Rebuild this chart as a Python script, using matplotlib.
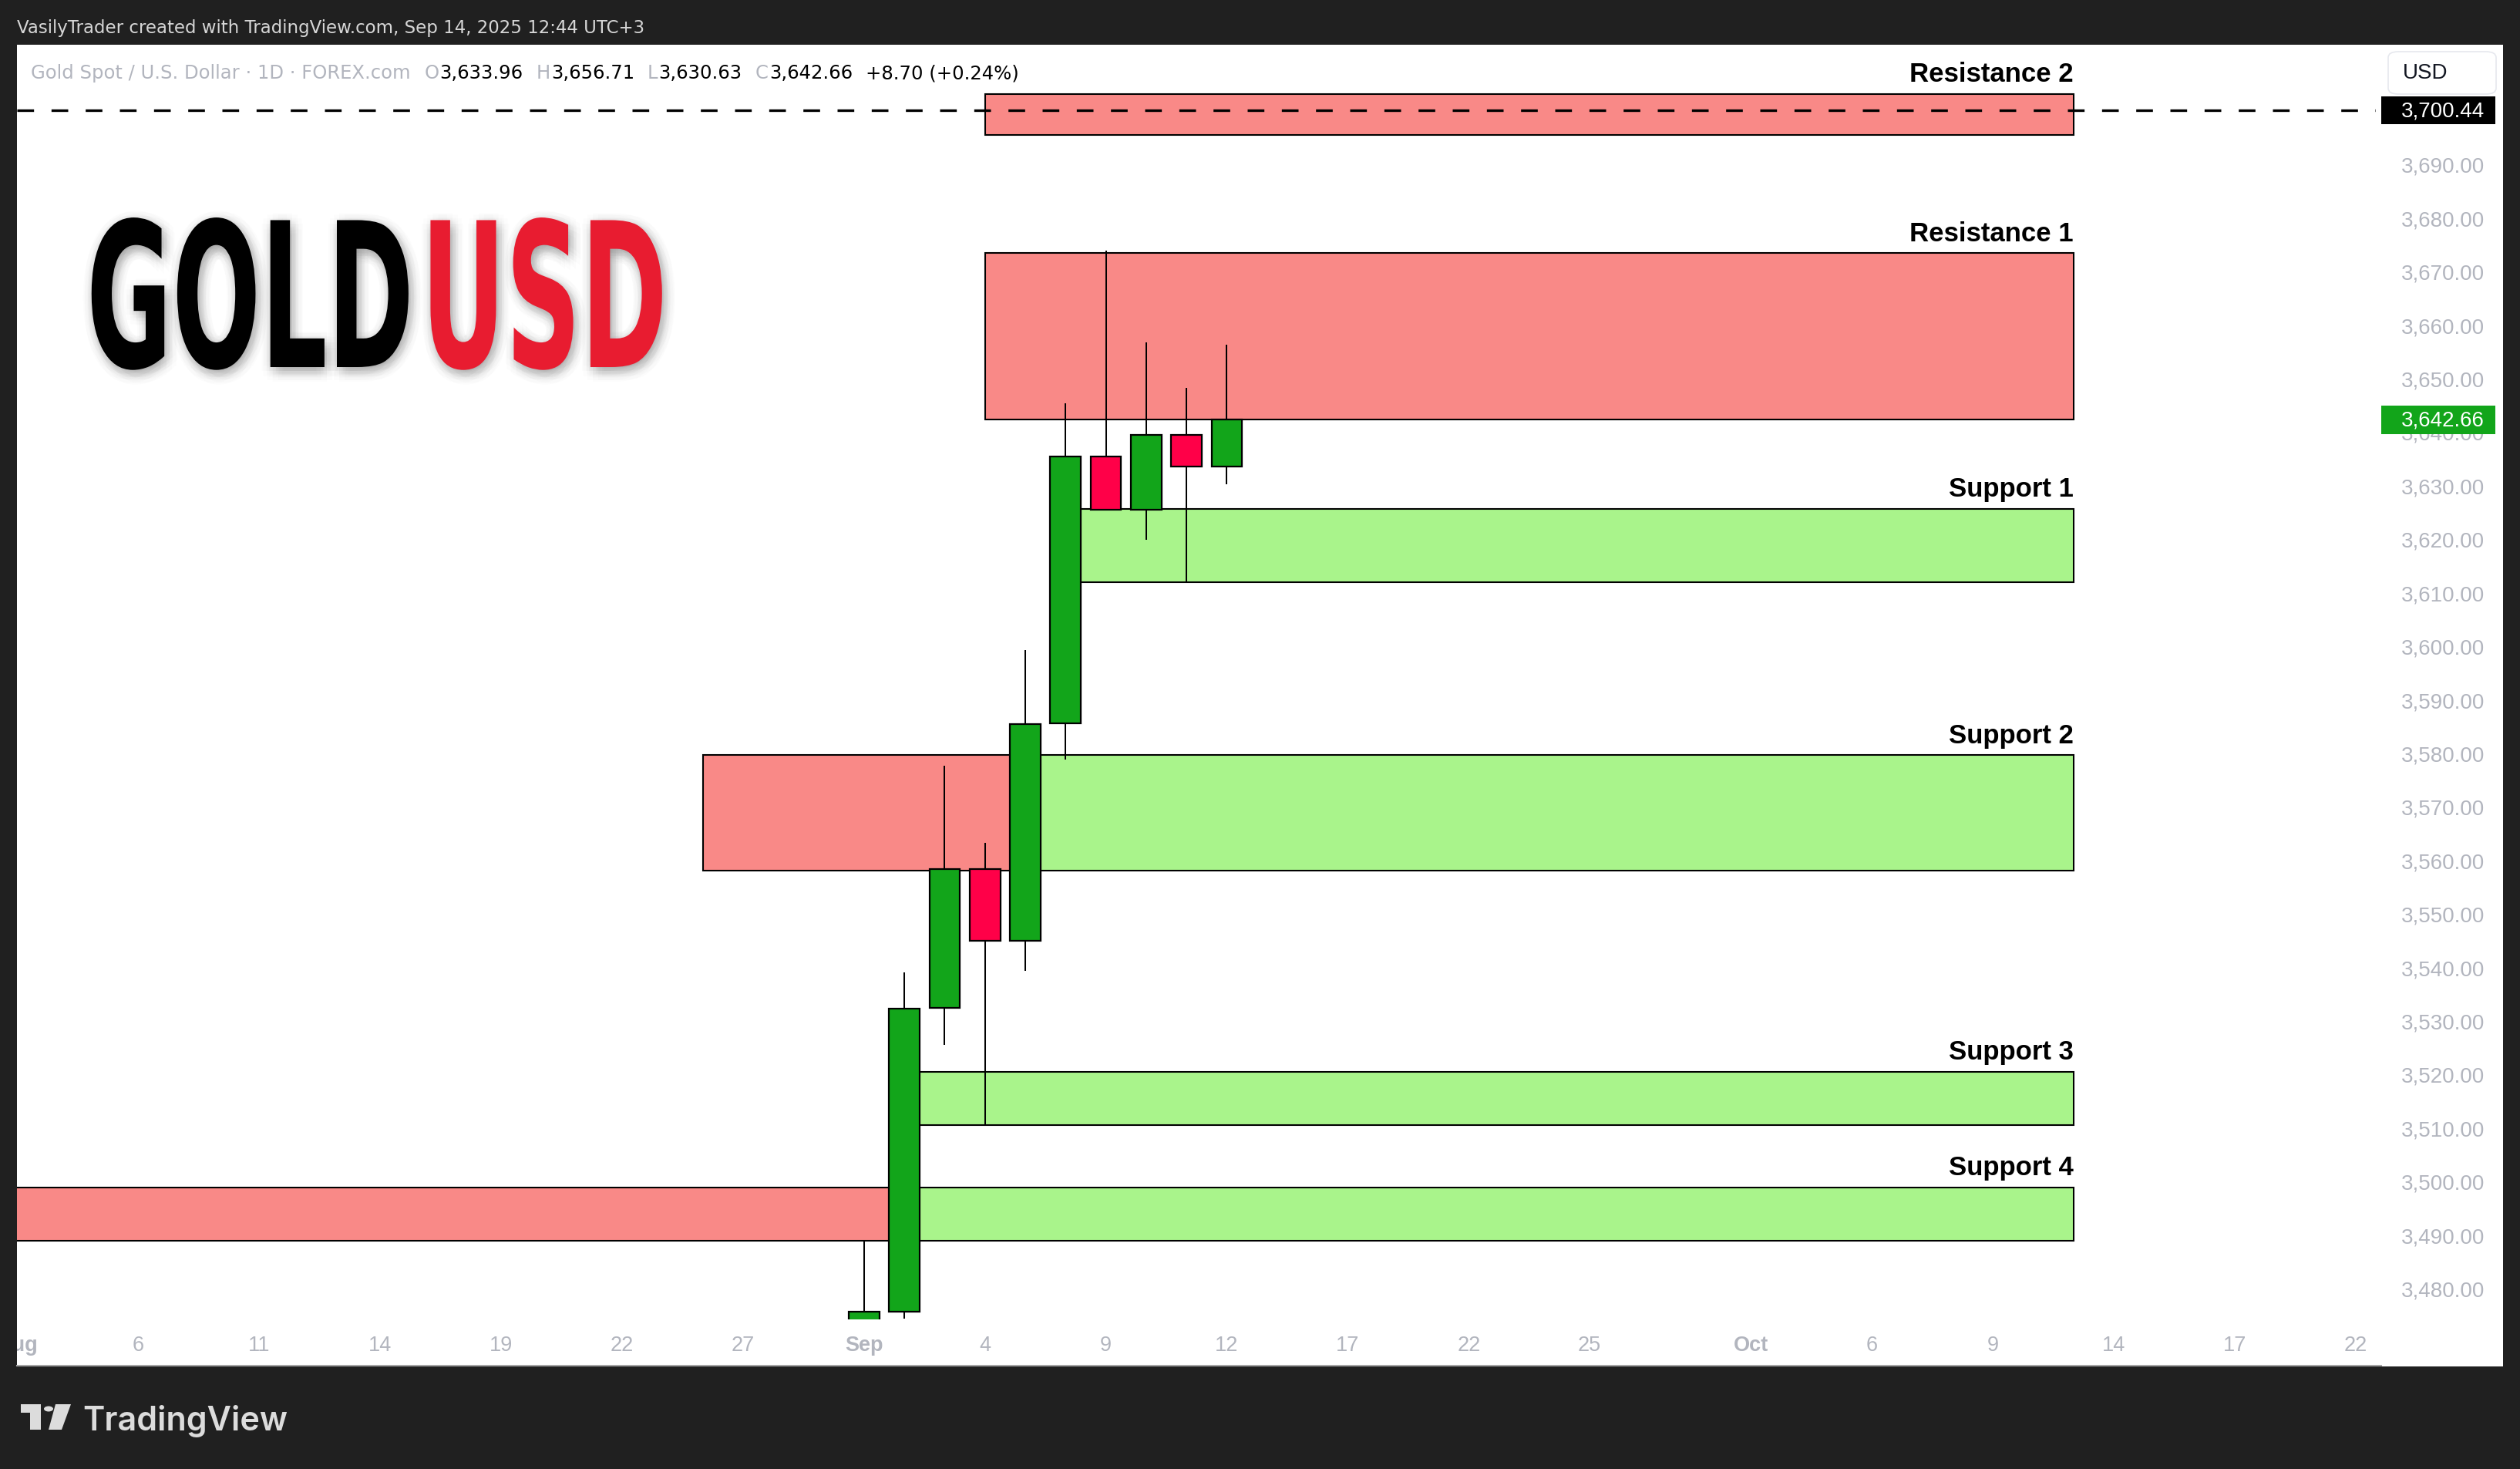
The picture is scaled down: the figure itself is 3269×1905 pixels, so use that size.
import numpy as np
import matplotlib
matplotlib.use('Agg')
import matplotlib.pyplot as plt
from matplotlib.patches import Rectangle, FancyBboxPatch, Polygon, Circle
from matplotlib import patheffects as pe
from matplotlib.transforms import Affine2D, Bbox, TransformedBbox, blended_transform_factory

W, H = 3269, 1906
DPI = 100

# daily candles, gold spot (FOREX.com), Sep 2025
dates = ['2025-09-01', '2025-09-02', '2025-09-03', '2025-09-04', '2025-09-05',
         '2025-09-08', '2025-09-09', '2025-09-10', '2025-09-11', '2025-09-12']
opens = [3448.0, 3476.0, 3532.8, 3558.7, 3545.4, 3585.9, 3635.8, 3625.9, 3639.8, 3633.96]
highs = [3489.4, 3539.5, 3578.0, 3563.7, 3599.6, 3645.8, 3674.3, 3657.1, 3648.6, 3656.71]
lows = [3436.6, 3474.7, 3525.9, 3510.9, 3539.7, 3579.2, 3625.9, 3620.3, 3612.5, 3630.63]
closes = [3476.0, 3532.7, 3558.7, 3545.4, 3585.8, 3635.8, 3625.9, 3639.8, 3633.96, 3642.66]

# support / resistance zones
zone_names = ['Resistance 2', 'Resistance 1', 'Support 1', 'Support 2', 'Support 3', 'Support 4']
zone_top = [3703.6, 3673.8, 3626.0, 3580.0, 3520.9, 3499.3]
zone_bottom = [3695.9, 3642.7, 3612.4, 3558.5, 3510.9, 3489.3]
zone_kind = ['res', 'res', 'sup', 'sup', 'sup', 'sup']
zone_start = ['2025-09-04', '2025-09-04', '2025-09-08', '2025-09-05', '2025-09-02', '2025-09-02']
zone_flip_start = [None, None, None, '2025-08-26', None, '2025-07-01']  # old resistance part
zone_end = '2025-10-13'
level_line = 3700.44

tick_dates = ['2025-08-01', '2025-08-06', '2025-08-11', '2025-08-14', '2025-08-19', '2025-08-22',
              '2025-08-27', '2025-09-01', '2025-09-04', '2025-09-09', '2025-09-12', '2025-09-17',
              '2025-09-22', '2025-09-25', '2025-10-01', '2025-10-06', '2025-10-09', '2025-10-14',
              '2025-10-17', '2025-10-22']
tick_labels = ['Aug', '6', '11', '14', '19', '22', '27', 'Sep', '4', '9', '12', '17', '22', '25',
               'Oct', '6', '9', '14', '17', '22']
price_ticks = list(range(3480, 3700, 10))

BG = '#202020'
RED_ZONE = '#f98987'
GREEN_ZONE = '#a9f48b'
UP = '#12a51a'
DOWN = '#ff0048'
AXIS_GRAY = '#b2b5be'


def bar(d):
    # trading-day index, Sep 1 = 0
    return int(np.busday_count('2025-09-01', d))


def fx(x):
    return x / W


def fy(y):
    return 1 - y / H


fig = plt.figure(figsize=(W / DPI, H / DPI), dpi=DPI)
fig.patch.set_facecolor(BG)
fig.patches.append(Rectangle((fx(22), fy(1773)), fx(3247) - fx(22), fy(59) - fy(1773),
                             transform=fig.transFigure, facecolor='white', edgecolor='none', zorder=-5))
fig.lines.append(plt.Line2D([fx(22), fx(3089)], [fy(1772), fy(1772)], transform=fig.transFigure,
                            color='#a6a6a6', lw=1.5, zorder=-4))

ax = fig.add_axes([fx(22), fy(1712), fx(3082) - fx(22), fy(59) - fy(1712)])
ax.set_xlim(-21.01, 37.5)
ax.set_ylim(3474.6, 3712.75)
ax.axis('off')

# zones
end_i = bar(zone_end)
for name, top, bot, kind, start, flip in zip(zone_names, zone_top, zone_bottom, zone_kind,
                                             zone_start, zone_flip_start):
    s = bar(start)
    col = RED_ZONE if kind == 'res' else GREEN_ZONE
    ax.add_patch(Rectangle((s, bot), end_i - s, top - bot, facecolor=col, edgecolor='black',
                           lw=1.5, zorder=1))
    if flip is not None:
        f = bar(flip)
        ax.add_patch(Rectangle((f, bot), s - f, top - bot, facecolor=RED_ZONE, edgecolor='black',
                               lw=1.5, zorder=1))
    ax.annotate(name, xy=(end_i, top), xytext=(0, 12), textcoords='offset points', ha='right',
                va='baseline', fontsize=25, fontweight='bold', family=['Liberation Sans', 'DejaVu Sans'],
                color='black', annotation_clip=False, zorder=5)

ax.axhline(level_line, color='black', lw=2.4, dashes=(6.5, 6.8), zorder=2)

# candles
bw = 0.76
for d, o, h, l, c in zip(dates, opens, highs, lows, closes):
    i = bar(d)
    ax.vlines(i, l, h, color='black', lw=1.45, zorder=3)
    ax.add_patch(Rectangle((i - bw / 2, min(o, c)), bw, abs(c - o), facecolor=UP if c >= o else DOWN,
                           edgecolor='black', lw=1.6, zorder=4))

# price axis
trans_py = blended_transform_factory(fig.transFigure, ax.transData)
for p in price_ticks:
    ax.text(fx(3223), p, f'{p:,.2f}', transform=trans_py, ha='right', va='center', color=AXIS_GRAY,
            fontsize=20, family=['Liberation Sans', 'DejaVu Sans'], clip_on=False, zorder=6)

for val, col in [(level_line, 'black'), (closes[-1], UP)]:
    ax.add_patch(Rectangle((fx(3089), val - 2.6), fx(3237) - fx(3089), 5.2, transform=trans_py,
                           facecolor=col, edgecolor='none', clip_on=False, zorder=7))
    ax.text(fx(3223), val, f'{val:,.2f}', transform=trans_py, ha='right', va='center', color='white',
            fontsize=20, family=['Liberation Sans', 'DejaVu Sans'], clip_on=False, zorder=8)

fig.patches.append(FancyBboxPatch((fx(3098), fy(123)), fx(3238) - fx(3098), fy(68) - fy(123),
                                  boxstyle='round,pad=0,rounding_size=0.004', transform=fig.transFigure,
                                  facecolor='white', edgecolor='#e6e8ee', lw=1.2, zorder=1))
fig.text(fx(3146), fy(95), 'USD', ha='center', va='center', fontsize=20,
         family=['Liberation Sans', 'DejaVu Sans'], color='#131722')

# time axis
trans_tx = blended_transform_factory(ax.transData, fig.transFigure)
clip = TransformedBbox(Bbox([[fx(22), 0], [fx(3247), 1]]), fig.transFigure)
for d, lab in zip(tick_dates, tick_labels):
    t = fig.text(bar(d), fy(1745), lab, transform=trans_tx, ha='center', va='center', fontsize=19.5,
                 family=['Liberation Sans', 'DejaVu Sans'], color=AXIS_GRAY,
                 fontweight='bold' if not lab.isdigit() else 'normal')
    t.set_clip_box(clip)
    t.set_clip_on(True)

# header texts
fig.text(fx(22), fy(43), 'VasilyTrader created with TradingView.com, Sep 14, 2025 12:44 UTC+3',
         va='baseline', ha='left', fontsize=16.5, color='#d6d6d6', family='DejaVu Sans')

renderer = fig.canvas.get_renderer()
chg = closes[-1] - closes[-2]
pieces = [('Gold Spot / U.S. Dollar · 1D · FOREX.com', AXIS_GRAY, 0),
          ('O', AXIS_GRAY, 18), (f'{opens[-1]:,.2f}', 'black', 1),
          ('H', AXIS_GRAY, 17), (f'{highs[-1]:,.2f}', 'black', 1),
          ('L', AXIS_GRAY, 17), (f'{lows[-1]:,.2f}', 'black', 1),
          ('C', AXIS_GRAY, 17), (f'{closes[-1]:,.2f}', 'black', 1),
          (f'{chg:+.2f} ({chg / closes[-2] * 100:+.2f}%)', 'black', 17)]
xpos = 40
for txt, col, gap in pieces:
    xpos += gap
    t = fig.text(fx(xpos), fy(102), txt, va='baseline', ha='left', fontsize=17.5, color=col,
                 family='DejaVu Sans')
    xpos += t.get_window_extent(renderer).width


# big GOLDUSD title: real text, stretched vertically for a condensed look
class Stretch(pe.AbstractPathEffect):
    def __init__(self, sy, y0, offset=(0, 0), color=None, alpha=1.0):
        super().__init__()
        self.sy, self.y0 = sy, y0
        self.off = offset
        self.color = color
        self.alpha = alpha

    def draw_path(self, renderer, gc, tpath, affine, rgbFace=None):
        tr = affine + Affine2D().translate(0, -self.y0).scale(1, self.sy).translate(self.off[0],
                                                                                     self.y0 + self.off[1])
        gc0 = renderer.new_gc()
        gc0.copy_properties(gc)
        face = rgbFace
        if self.color is not None:
            face = matplotlib.colors.to_rgba(self.color)
            gc0.set_alpha(self.alpha)
        renderer.draw_path(gc0, tpath, tr, face)
        gc0.restore()


base_px = H - 477
sy = 1.93


def shadowed():
    effects = []
    for r in (14, 9, 5):
        for a in np.linspace(0, 2 * np.pi, 12, endpoint=False):
            effects.append(Stretch(sy, base_px, offset=(3 + r * np.cos(a), -5 + r * np.sin(a)),
                                   color='#000000', alpha=0.011))
    effects.append(Stretch(sy, base_px))
    return effects


for word, col, x0 in [('GOLD', 'black', 112), ('USD', '#e81c30', 546)]:
    fig.text(fx(x0), fy(477), word, ha='left', va='baseline', fontsize=97.5, fontweight='bold',
             family='DejaVu Sans', color=col, path_effects=shadowed())

# footer logo
LOGO = '#dcdcdc'
fig.patches.append(Polygon([(fx(27), fy(1822)), (fx(53), fy(1822)), (fx(53), fy(1855)), (fx(39), fy(1855)),
                            (fx(39), fy(1833)), (fx(27), fy(1833))], closed=True,
                           transform=fig.transFigure, facecolor=LOGO, edgecolor='none'))
fig.patches.append(Circle((fx(63), fy(1828)), 6 / W, transform=fig.transFigure, facecolor=LOGO,
                          edgecolor='none'))
fig.patches.append(Polygon([(fx(72), fy(1822)), (fx(92), fy(1822)), (fx(80), fy(1855)), (fx(63), fy(1855))],
                           closed=True, transform=fig.transFigure, facecolor=LOGO, edgecolor='none'))
fig.text(fx(107), fy(1855), 'TradingView', ha='left', va='baseline', fontsize=31, fontweight='semibold',
         family=['Inter', 'DejaVu Sans'], color=LOGO)

fig.savefig('out.png', dpi=DPI, facecolor=fig.get_facecolor())
